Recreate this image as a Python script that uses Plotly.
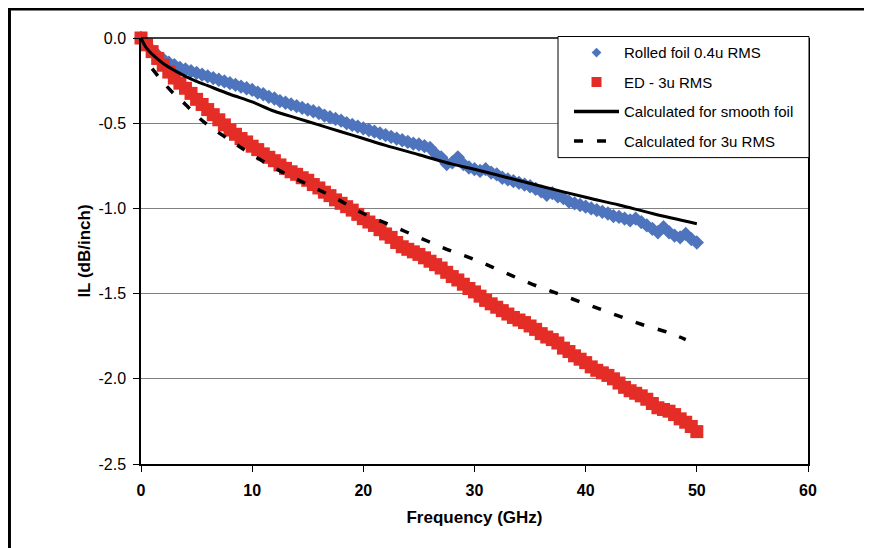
import plotly.graph_objects as go

# ---------------- data ----------------
freq_meas = [i * 0.5 for i in range(101)]  # GHz sample grid 0..50

il_rolled = [
    0.0, -0.04, -0.075, -0.10, -0.125, -0.145, -0.16, -0.175, -0.185, -0.195,
    -0.205, -0.215, -0.225, -0.235, -0.245, -0.255, -0.265, -0.275, -0.285, -0.295,
    -0.305, -0.32, -0.33, -0.345, -0.355, -0.37, -0.38, -0.39, -0.40, -0.41,
    -0.42, -0.43, -0.44, -0.455, -0.465, -0.475, -0.485, -0.50, -0.51, -0.52,
    -0.53, -0.54, -0.55, -0.56, -0.57, -0.58, -0.59, -0.60, -0.61, -0.62,
    -0.625, -0.635, -0.645, -0.68, -0.70, -0.74, -0.73, -0.70, -0.74, -0.76,
    -0.77, -0.78, -0.77, -0.79, -0.80, -0.82, -0.83, -0.84, -0.85, -0.86,
    -0.87, -0.885, -0.90, -0.92, -0.91, -0.93, -0.94, -0.96, -0.97, -0.98,
    -0.99, -1.00, -1.01, -1.02, -1.03, -1.045, -1.05, -1.06, -1.07, -1.06,
    -1.08, -1.10, -1.12, -1.14, -1.11, -1.14, -1.16, -1.17, -1.15, -1.18,
    -1.20,
]

il_ed = [
    0.0, -0.04, -0.08, -0.12, -0.16, -0.20, -0.235, -0.265, -0.295, -0.325,
    -0.36, -0.39, -0.42, -0.45, -0.48, -0.51, -0.54, -0.565, -0.59, -0.61,
    -0.635, -0.655, -0.68, -0.70, -0.72, -0.745, -0.765, -0.785, -0.80, -0.82,
    -0.835, -0.86, -0.88, -0.905, -0.925, -0.95, -0.97, -0.99, -1.01, -1.035,
    -1.06, -1.08, -1.10, -1.125, -1.15, -1.17, -1.20, -1.225, -1.24, -1.255,
    -1.27, -1.29, -1.31, -1.33, -1.35, -1.375, -1.40, -1.42, -1.445, -1.47,
    -1.49, -1.515, -1.54, -1.56, -1.58, -1.60, -1.62, -1.64, -1.655, -1.67,
    -1.69, -1.71, -1.735, -1.755, -1.77, -1.79, -1.82, -1.84, -1.865, -1.885,
    -1.905, -1.93, -1.95, -1.965, -1.98, -2.00, -2.025, -2.05, -2.07, -2.085,
    -2.10, -2.12, -2.145, -2.17, -2.18, -2.19, -2.21, -2.235, -2.255, -2.28,
    -2.31,
]

freq_smooth = [0, 0.5, 1, 2, 3, 4, 5, 6, 8, 10, 12, 14, 16, 18, 20, 22, 25, 28, 30, 33, 36, 40, 43, 46, 50]
il_smooth = [0.0, -0.06, -0.095, -0.15, -0.19, -0.225, -0.255, -0.28, -0.33, -0.375, -0.43, -0.47,
             -0.51, -0.55, -0.59, -0.63, -0.685, -0.74, -0.77, -0.82, -0.87, -0.935, -0.98, -1.03, -1.09]

freq_rough = [1, 2, 3, 4, 5, 6, 8, 10, 12.5, 15, 17.5, 20, 22.5, 25, 27.5, 30, 32.5, 35, 37.5, 40, 42.5, 45, 47.5, 49]
il_rough = [-0.18, -0.26, -0.33, -0.39, -0.455, -0.51, -0.60, -0.685, -0.78, -0.86, -0.94, -1.03,
            -1.10, -1.17, -1.24, -1.30, -1.37, -1.44, -1.50, -1.56, -1.62, -1.68, -1.73, -1.77]

x_ticks = [0, 10, 20, 30, 40, 50, 60]
y_ticks = [0.0, -0.5, -1.0, -1.5, -2.0, -2.5]
y_tick_text = ["0.0", "-0.5", "-1.0", "-1.5", "-2.0", "-2.5"]

names = ["Rolled foil 0.4u RMS", "ED - 3u RMS", "Calculated for smooth foil", "Calculated for 3u RMS"]

BLUE = "#4F74BE"
RED = "#E42D26"
FONT = "Liberation Sans, Arial, sans-serif"
DASH = "9px,14px"

fig = go.Figure()
# data traces (not in legend)
fig.add_trace(go.Scatter(x=freq_meas, y=il_rolled, mode="markers", name=names[0], showlegend=False,
                         marker=dict(symbol="diamond", size=11, color=BLUE), cliponaxis=False))
fig.add_trace(go.Scatter(x=freq_meas, y=il_ed, mode="markers", name=names[1], showlegend=False,
                         marker=dict(symbol="square", size=13, color=RED), cliponaxis=False))
fig.add_trace(go.Scatter(x=freq_smooth, y=il_smooth, mode="lines", name=names[2], showlegend=False,
                         line=dict(color="black", width=3, shape="spline")))
fig.add_trace(go.Scatter(x=freq_rough, y=il_rough, mode="lines", name=names[3], showlegend=False,
                         line=dict(color="black", width=3.5, dash=DASH, shape="spline")))

# legend entries (same styles, legend-sized markers)
fig.add_trace(go.Scatter(x=[None], y=[None], mode="markers", name=names[0], legendgroup="a",
                         marker=dict(symbol="diamond", size=7.5, color=BLUE)))
fig.add_trace(go.Scatter(x=[None], y=[None], mode="markers", name=names[1], legendgroup="b",
                         marker=dict(symbol="square", size=10, color=RED)))
fig.add_trace(go.Scatter(x=[None], y=[None], mode="lines", name=names[2], legendgroup="c",
                         line=dict(color="black", width=3.5)))
fig.add_trace(go.Scatter(x=[None], y=[None], mode="lines", name=names[3], legendgroup="d",
                         line=dict(color="black", width=3.5, dash=DASH)))

fig.update_layout(
    width=872, height=548,
    margin=dict(l=133, r=72, t=30, b=92),
    paper_bgcolor="white", plot_bgcolor="white",
    font=dict(family=FONT, color="black"),
    showlegend=True,
    legend=dict(x=0.6417, xanchor="left", y=1.004, yanchor="top",
                bgcolor="rgba(0,0,0,0)", borderwidth=0,
                font=dict(size=15, family=FONT), tracegroupgap=7,
                traceorder="grouped", itemwidth=45),
    xaxis=dict(range=[0, 60], tickvals=x_ticks, ticks="outside", ticklen=6, tickcolor="black",
               showline=True, linecolor="black", linewidth=2, showgrid=False, zeroline=False,
               tickfont=dict(size=16, weight="bold", family=FONT), ticklabelstandoff=5,
               title=dict(text="Frequency (GHz)", font=dict(size=17, weight="bold", family=FONT), standoff=13)),
    yaxis=dict(range=[-2.5, 0], tickvals=y_ticks, ticktext=y_tick_text, ticks="outside", ticklen=6,
               tickcolor="black", showline=True, linecolor="black", linewidth=1.5, mirror=True,
               showgrid=True, gridcolor="#808080", gridwidth=1, zeroline=False,
               tickfont=dict(size=16, family=FONT), ticklabelstandoff=4,
               title=dict(text="IL (dB/inch)", font=dict(size=17, weight="bold", family=FONT), standoff=4)),
    shapes=[
        dict(type="line", xref="paper", yref="paper", x0=0, x1=1, y0=1, y1=1,
             line=dict(color="black", width=1.5)),
        # legend box
        dict(type="rect", xref="paper", yref="paper", x0=0.6252, x1=1.0015, y0=0.7192, y1=1.0035,
             line=dict(color="black", width=1), fillcolor="white", layer="above"),
        # outer frame: left and top edges (right/bottom fall outside the window)
        dict(type="line", xref="paper", yref="paper", x0=-0.1972, x1=-0.1972, y0=-0.25, y1=1.0682,
             line=dict(color="black", width=3), layer="above"),
        dict(type="line", xref="paper", yref="paper", x0=-0.1994, x1=1.2, y0=1.0682, y1=1.0682,
             line=dict(color="black", width=3), layer="above"),
    ],
)

fig.write_html(
    "out.html",
    post_script="document.documentElement.style.overflow='hidden';document.body.style.overflow='hidden';",
)
